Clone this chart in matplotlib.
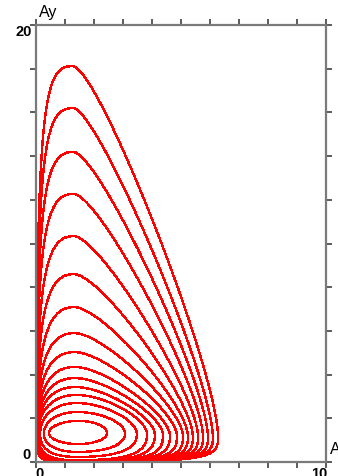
import numpy as np
import matplotlib
matplotlib.use("Agg")
import matplotlib.pyplot as plt

# ---- contour outlines (inner -> outer) ----
peak_y   = [1.88, 2.29, 2.70, 3.07, 3.43, 3.84, 4.35, 5.03, 5.90, 7.09, 8.60, 10.34, 12.27, 14.19, 16.20, 18.12]
peak_x   = [1.45, 1.42, 1.40, 1.38, 1.36, 1.35, 1.34, 1.33, 1.32, 1.31, 1.30, 1.30, 1.29, 1.28, 1.27, 1.26]
right_x  = [2.45, 3.07, 3.48, 3.83, 4.10, 4.38, 4.62, 4.86, 5.07, 5.24, 5.41, 5.59, 5.76, 5.93, 6.10, 6.28]
left_x   = [0.45, 0.27, 0.14, 0.07, 0.05, 0.045, 0.04, 0.035, 0.03, 0.03, 0.025, 0.025, 0.02, 0.02, 0.02, 0.02]
bottom_y = [0.82, 0.46, 0.23, 0.08, 0.05, 0.045, 0.04, 0.035, 0.03, 0.03, 0.025, 0.025, 0.02, 0.02, 0.02, 0.02]
mid_y    = [1.32, 1.30, 1.28, 1.26, 1.24, 1.22, 1.20, 1.18, 1.16, 1.15, 1.14, 1.13, 1.12, 1.11, 1.10, 1.10]
# curve handle lengths of each quadrant (fraction of the half-width / half-height)
tr_top   = [0.55, 0.50, 0.45, 0.41, 0.37, 0.34, 0.31, 0.29, 0.27, 0.25, 0.23, 0.21, 0.20, 0.19, 0.18, 0.18]
tr_side  = [0.55, 0.50, 0.45, 0.41, 0.37, 0.34, 0.31, 0.29, 0.27, 0.25, 0.23, 0.21, 0.20, 0.19, 0.18, 0.18]
tl_top   = [0.55, 0.56, 0.57, 0.58, 0.60, 0.62, 0.63, 0.64, 0.65, 0.66, 0.68, 0.70, 0.72, 0.74, 0.75, 0.76]
tl_side  = [0.55, 0.58, 0.61, 0.64, 0.67, 0.70, 0.72, 0.74, 0.76, 0.78, 0.80, 0.83, 0.86, 0.88, 0.90, 0.92]
bl_corner = [0.55, 0.62, 0.68, 0.74, 0.78, 0.82, 0.85, 0.88, 0.90, 0.92, 0.93, 0.94, 0.95, 0.95, 0.95, 0.95]
br_bottom = [0.55, 0.62, 0.68, 0.74, 0.78, 0.82, 0.85, 0.87, 0.88, 0.89, 0.90, 0.90, 0.90, 0.90, 0.90, 0.90]
br_side   = [0.55, 0.62, 0.68, 0.74, 0.78, 0.82, 0.85, 0.87, 0.88, 0.89, 0.90, 0.90, 0.90, 0.90, 0.90, 0.90]

x_ticks = np.arange(0, 11, 1)
y_ticks = np.arange(0, 21, 2)

t = np.linspace(0, 1, 250)[:, None]


def bezier(p0, p1, p2, p3):
    p0, p1, p2, p3 = (np.asarray(p, float) for p in (p0, p1, p2, p3))
    return (1 - t) ** 3 * p0 + 3 * (1 - t) ** 2 * t * p1 + 3 * (1 - t) * t ** 2 * p2 + t ** 3 * p3


fig = plt.figure(figsize=(3.38, 4.76), dpi=100)
ax = fig.add_axes([36 / 338, 14 / 476, 290 / 338, 437 / 476])

for k in range(len(peak_y)):
    xc, yc = peak_x[k], mid_y[k]
    xl, xr, yb, yt = left_x[k], right_x[k], bottom_y[k], peak_y[k]
    ar, al = xr - xc, xc - xl
    bt, bb = yt - yc, yc - yb
    q1 = bezier((xr, yc), (xr, yc + tr_side[k] * bt), (xc + tr_top[k] * ar, yt), (xc, yt))
    q2 = bezier((xc, yt), (xc - tl_top[k] * al, yt), (xl, yc + tl_side[k] * bt), (xl, yc))
    q3 = bezier((xl, yc), (xl, yc - bl_corner[k] * bb), (xc - bl_corner[k] * al, yb), (xc, yb))
    q4 = bezier((xc, yb), (xc + br_bottom[k] * ar, yb), (xr, yc - br_side[k] * bb), (xr, yc))
    pts = np.vstack([q1, q2, q3, q4])
    ax.plot(pts[:, 0], pts[:, 1], color='#ff0000', lw=1.0, antialiased=False)

ax.set_xlim(0, 10)
ax.set_ylim(0, 20)
for s in ax.spines.values():
    s.set_color('#7a7a7a'); s.set_linewidth(1.6)
ax.set_xticks(x_ticks)
ax.set_yticks(y_ticks)
ax.tick_params(which='both', direction='out', length=4, width=1.2, color='#404040',
               top=True, right=True, labelleft=False, labelbottom=False)

lab = dict(fontsize=10.5, fontweight='bold', family='Liberation Sans', color='black')
fig.text(32 / 338, 1 - 32 / 476, '20', ha='right', va='center', **lab)
fig.text(31 / 338, 1 - 455 / 476, '0', ha='right', va='center', **lab)
fig.text(39.5 / 338, 1 - 467 / 476, '0', ha='center', va='top', **lab)
fig.text(319.5 / 338, 1 - 467 / 476, '10', ha='center', va='top', **lab)
fig.text(39 / 338, 1 - 12.5 / 476, 'Ay', ha='left', va='center', fontsize=11.5,
         family='Liberation Sans', color='black')
fig.text(329.5 / 338, 1 - 450 / 476, 'Ax', ha='left', va='center', fontsize=11.5,
         family='Liberation Sans', color='black')

fig.savefig('out.png', dpi=100)
